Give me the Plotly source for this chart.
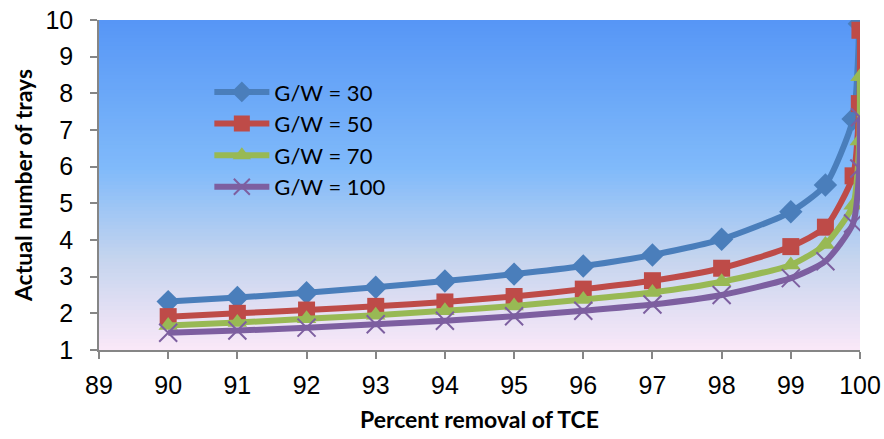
import plotly.graph_objects as go

x_removal = [90, 91, 92, 93, 94, 95, 96, 97, 98, 99, 99.5, 99.9, 99.99, 99.999]
gw30 = [2.32, 2.43, 2.56, 2.71, 2.88, 3.07, 3.29, 3.59, 4.02, 4.77, 5.5, 7.3, 9.9, 12.5]
gw50 = [1.91, 2.0, 2.09, 2.19, 2.31, 2.46, 2.66, 2.89, 3.23, 3.82, 4.35, 5.75, 7.72, 9.72]
gw70 = [1.67, 1.75, 1.85, 1.95, 2.07, 2.2, 2.38, 2.57, 2.86, 3.32, 3.88, 4.95, 6.7, 8.45]
gw100 = [1.47, 1.53, 1.61, 1.7, 1.8, 1.92, 2.07, 2.24, 2.5, 2.96, 3.42, 4.45, 5.95, 7.35]

series_names = ["G/W = 30", "G/W = 50", "G/W = 70", "G/W = 100"]
x_ticks = list(range(89, 101))
y_ticks = list(range(1, 11))

colors = ["#4A7EBB", "#BE4B48", "#98B954", "#7D5FA0"]
symbols = ["diamond", "square", "triangle-up", "x-thin"]
sizes = [18, 17, 17, 18]

fig = go.Figure()
for i, (name, ys) in enumerate(zip(series_names, [gw30, gw50, gw70, gw100])):
    marker = dict(symbol=symbols[i], size=sizes[i], color=colors[i])
    if symbols[i] == "x-thin":
        marker["line"] = dict(color=colors[i], width=2)
    fig.add_trace(go.Scatter(
        x=x_removal, y=ys, name=name, mode="lines+markers",
        line=dict(color=colors[i], width=6, shape="spline", smoothing=0.6),
        marker=marker, cliponaxis=True, legendgroup=name,
    ))

# gradient background
def lerp(a, b, t):
    return tuple(int(round(a[k] + (b[k] - a[k]) * t)) for k in range(3))

stops = [(0.0, (86, 150, 246)), (0.45, (128, 186, 250)), (0.72, (196, 212, 238)), (1.0, (250, 232, 248))]
n = 90
shapes = []
for j in range(n):
    t = (j + 0.5) / n
    for k in range(len(stops) - 1):
        if stops[k][0] <= t <= stops[k + 1][0]:
            tt = (t - stops[k][0]) / (stops[k + 1][0] - stops[k][0])
            c = lerp(stops[k][1], stops[k + 1][1], tt)
            break
    shapes.append(dict(type="rect", xref="x domain", yref="y domain",
                       x0=0, x1=1, y0=1 - (j + 1) / n - 0.002, y1=1 - j / n,
                       fillcolor="rgb(%d,%d,%d)" % c, line=dict(width=0), layer="below"))

fig.update_layout(
    width=884, height=439,
    margin=dict(l=99, r=24, t=20, b=89),
    paper_bgcolor="white", plot_bgcolor="white",
    shapes=shapes,
    showlegend=True,
    legend=dict(x=0.145, y=0.845, xanchor="left", yanchor="top",
                bgcolor="rgba(0,0,0,0)", font=dict(family="Lato", size=22, color="black"),
                tracegroupgap=0, traceorder="grouped", itemwidth=55),
    xaxis=dict(range=[89, 100], tickvals=x_ticks, ticktext=[str(v) for v in x_ticks],
               showgrid=False, zeroline=False, showline=True, linecolor="#868686", linewidth=1.5,
               ticks="outside", ticklen=7, tickcolor="#868686", tickwidth=1.5, automargin=False,
               ticklabelstandoff=5,
               tickfont=dict(family="Liberation Sans", size=25, color="black"),
               title=dict(text="<b>Percent removal of TCE</b>", font=dict(family="Lato", size=23, color="black"), standoff=14)),
    yaxis=dict(range=[1, 10], tickvals=y_ticks, ticktext=[str(v) for v in y_ticks],
               showgrid=False, zeroline=False, showline=True, linecolor="#868686", linewidth=1.5,
               ticks="outside", ticklen=7, tickcolor="#868686", tickwidth=1.5, automargin=False,
               ticklabelstandoff=12,
               tickfont=dict(family="Liberation Sans", size=25, color="black"),
               title=dict(text="<b>Actual number of trays</b>", font=dict(family="Lato", size=23, color="black"), standoff=6)),
)

fig.write_html("out.html")
